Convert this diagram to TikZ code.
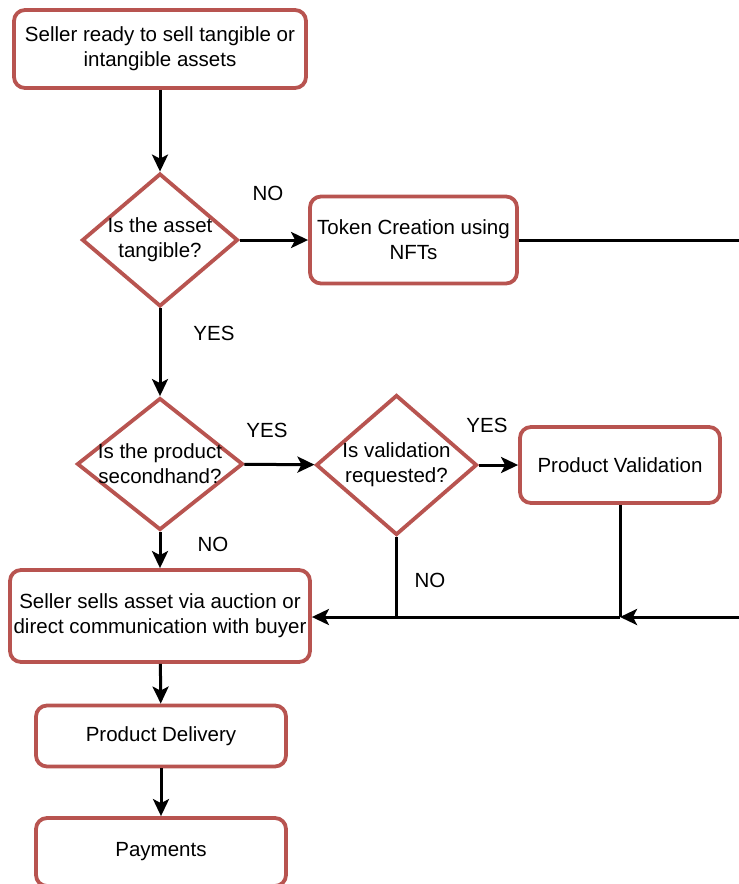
\documentclass[tikz,border=0pt]{standalone}
\usepackage{fontspec}
\setmainfont{Liberation Sans}
\usetikzlibrary{shapes.geometric,arrows.meta}
\definecolor{bred}{HTML}{B85450}
\newcommand\fsz{\fontsize{20.5}{25}\selectfont}
\begin{document}
\begin{tikzpicture}[x=1pt,y=-1pt,
  box/.style={draw=bred, line width=3.8pt, rounded corners=11pt, fill=white, align=center, font=\fsz, inner sep=0pt},
  dia/.style={draw=bred, line width=3.8pt, diamond, fill=white, inner sep=0pt},
  txt/.style={align=center, font=\fsz, inner sep=0pt},
  lbl/.style={font=\fsz, inner sep=0pt},
  conn/.style={line width=3pt, black},
  arr/.style={conn, -{Stealth[length=17pt,width=16pt,inset=4pt]}}]
\useasboundingbox (0,0) rectangle (739,884);
\clip (0,0) rectangle (739,884);
% nodes
\node[box, minimum width=292pt, minimum height=78pt] (start) at (160,49) {Seller ready to sell tangible or\\intangible assets};
\node[dia, minimum width=156pt, minimum height=133pt] (d1) at (160,240) {};
\node[txt] (t1) at (160,240) {Is the asset\\tangible?};
\node[box, minimum width=207pt, minimum height=87pt] (tok) at (413.5,240) {Token Creation using\\NFTs};
\node[dia, minimum width=166pt, minimum height=132pt] (d2) at (160,464) {};
\node[txt] (t2) at (160,464) {Is the product\\secondhand?};
\node[dia, minimum width=161pt, minimum height=140pt] (d3) at (396.5,465) {};
\node[txt] (t3) at (396.5,465) {Is validation\\requested?};
\node[box, minimum width=200pt, minimum height=76pt] (pv) at (620,465) {Product Validation};
\node[box, minimum width=300pt, minimum height=92pt] (sell) at (160,616) {Seller sells asset via auction or\\direct communication with buyer};
\node[box, minimum width=250pt, minimum height=61pt] (deliv) at (161,736) {Product Delivery};
\node[box, minimum width=250pt, minimum height=68pt] (pay) at (161,852) {Payments};
% labels
\node[lbl] (no1) at (268,193) {NO};
\node[lbl] (yes1) at (214,333) {YES};
\node[lbl] (yes2) at (267,430) {YES};
\node[lbl] (yes3) at (487,425) {YES};
\node[lbl] (no2) at (213,544) {NO};
\node[lbl] (no3) at (430,580) {NO};
% coordinates
\coordinate (r1) at (745,240);
\coordinate (r2) at (745,617);
\coordinate (j1) at (620,617);
% connectors
\draw[arr] (start) -- (d1);
\draw[arr] (d1) -- (tok);
\draw[conn] (tok) -- (r1);
\draw[arr] (d1) -- (d2);
\draw[arr] (d2) -- (d3);
\draw[arr] (d3) -- (pv);
\draw[arr] (d2) -- (sell);
\draw[conn] (d3.south) -- (d3.south |- j1);
\draw[conn] (pv) -- (j1);
\draw[arr] (r2) -- (j1);
\draw[arr] (j1) -- (sell.east |- j1);
\draw[arr] (sell) -- (deliv);
\draw[arr] (deliv) -- (pay);
\end{tikzpicture}
\end{document}
